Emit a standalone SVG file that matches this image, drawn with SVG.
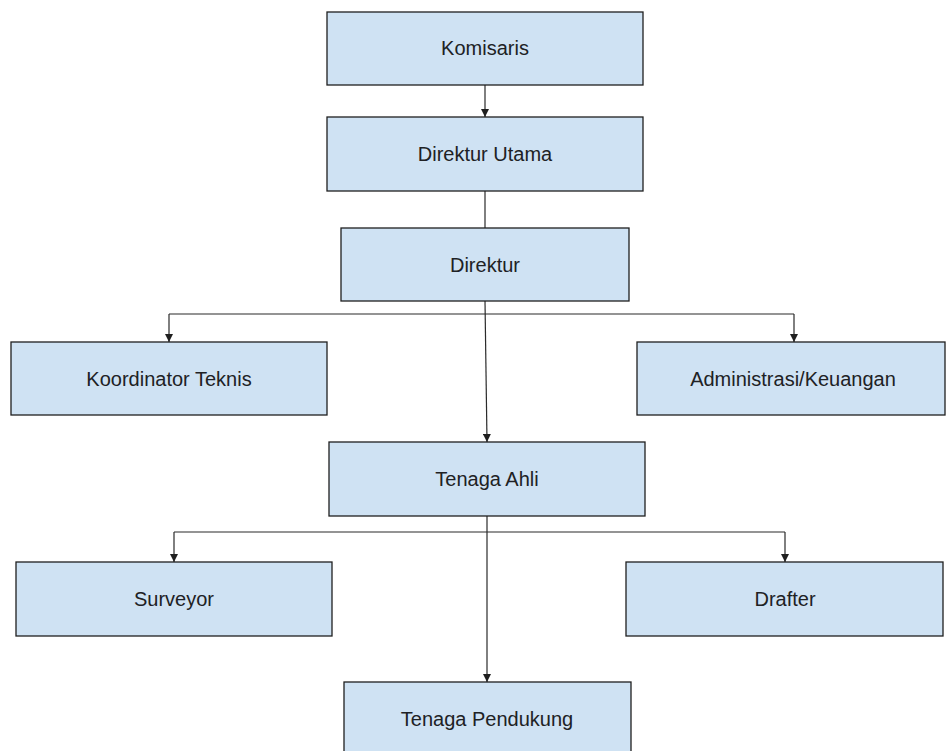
<svg xmlns="http://www.w3.org/2000/svg" width="946" height="751" viewBox="0 0 946 751">
<defs>
<style>
.box{fill:#cfe2f3;stroke:#1f1f1f;stroke-width:1.3}
.lbl{font-family:"Liberation Sans",Arial,sans-serif;font-size:20px;fill:#202124;text-anchor:middle}
.con{fill:none;stroke:#2b2b2b;stroke-width:1.2}
</style>
<marker id="ah" viewBox="0 0 8 8" refX="8" refY="4" markerWidth="8" markerHeight="8" markerUnits="userSpaceOnUse" orient="auto">
<path d="M0,0 L8,4 L0,8 Z" fill="#1f1f1f"/>
</marker>
</defs>
<rect width="946" height="751" fill="#ffffff"/>
<g id="connectors">
<line class="con" x1="485" y1="85" x2="485" y2="117" marker-end="url(#ah)"/>
<line class="con" x1="485" y1="191" x2="485" y2="228"/>
<line class="con" x1="485" y1="301" x2="487" y2="442" marker-end="url(#ah)"/>
<line class="con" x1="169" y1="314" x2="794" y2="314"/>
<line class="con" x1="169" y1="314" x2="169" y2="342" marker-end="url(#ah)"/>
<line class="con" x1="794" y1="314" x2="794" y2="342" marker-end="url(#ah)"/>
<line class="con" x1="487" y1="516" x2="487" y2="682" marker-end="url(#ah)"/>
<line class="con" x1="174" y1="532" x2="785" y2="532"/>
<line class="con" x1="174" y1="532" x2="174" y2="562" marker-end="url(#ah)"/>
<line class="con" x1="785" y1="532" x2="785" y2="562" marker-end="url(#ah)"/>
</g>
<g id="komisaris"><rect class="box" x="327" y="12" width="316" height="73"/><text class="lbl" x="485" y="55">Komisaris</text></g>
<g id="direktur-utama"><rect class="box" x="327" y="117" width="316" height="74"/><text class="lbl" x="485" y="161">Direktur Utama</text></g>
<g id="direktur"><rect class="box" x="341" y="228" width="288" height="73"/><text class="lbl" x="485" y="272">Direktur</text></g>
<g id="koordinator-teknis"><rect class="box" x="11" y="342" width="316" height="73"/><text class="lbl" x="169" y="386">Koordinator Teknis</text></g>
<g id="administrasi-keuangan"><rect class="box" x="637" y="342" width="308" height="73"/><text class="lbl" x="793" y="386">Administrasi/Keuangan</text></g>
<g id="tenaga-ahli"><rect class="box" x="329" y="442" width="316" height="74"/><text class="lbl" x="487" y="486">Tenaga Ahli</text></g>
<g id="surveyor"><rect class="box" x="16" y="562" width="316" height="74"/><text class="lbl" x="174" y="606">Surveyor</text></g>
<g id="drafter"><rect class="box" x="626" y="562" width="317" height="74"/><text class="lbl" x="785" y="606">Drafter</text></g>
<g id="tenaga-pendukung"><rect class="box" x="344" y="682" width="287" height="80"/><text class="lbl" x="487" y="726">Tenaga Pendukung</text></g>
</svg>
